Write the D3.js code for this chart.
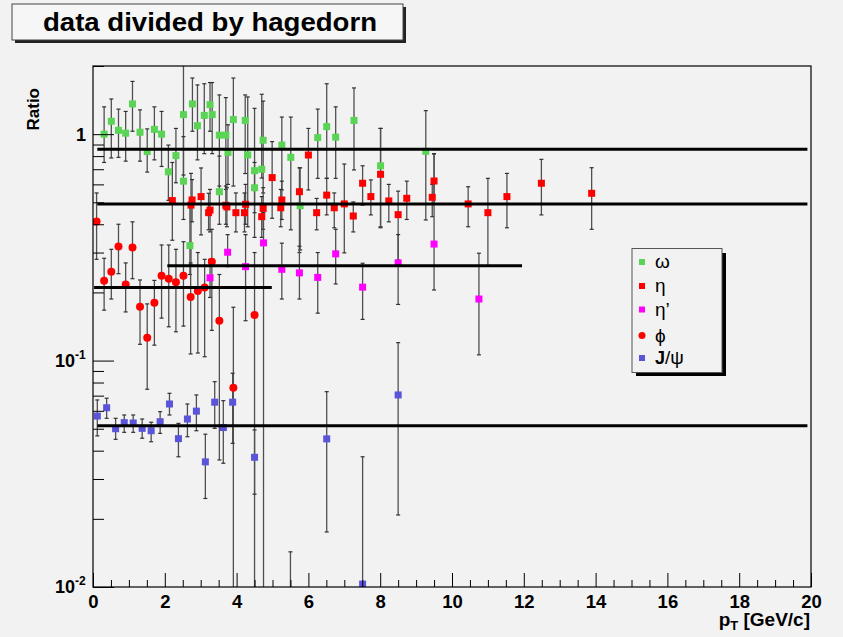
<!DOCTYPE html>
<html><head><meta charset="utf-8">
<script src="https://cdn.jsdelivr.net/npm/d3@7"></script>
<style>
html,body{margin:0;padding:0;background:#f2f2f2;}
svg{display:block;}
text{font-family:"Liberation Sans",Arial,Helvetica,sans-serif;}
</style></head>
<body>
<svg id="c" width="843" height="637"></svg>
<script>
// ---- data: [pT, ratio, errLowEdge, errHighEdge]
const omega = [
 [0.31,1.00,0.75,1.32],[0.51,1.14,0.785,1.43],[0.71,1.04,0.79,1.29],[0.91,1.01,0.76,1.26],
 [1.10,1.36,1.03,1.71],[1.31,1.02,0.76,1.28],[1.51,0.838,0.68,1.055],[1.71,1.05,0.77,1.32],
 [1.91,1.00,0.72,1.26],[2.10,0.682,0.51,0.895],[2.31,0.804,0.61,1.06],[2.52,1.22,0.66,2.2],
 [2.52,0.62,0.42,0.975],[2.70,0.322,0.24,0.5],[2.77,1.36,1.03,1.77],[2.91,1.09,0.77,1.65],
 [3.10,1.21,0.82,1.67],[3.26,1.35,1.03,1.69],[3.32,1.22,0.82,1.69],[3.52,0.99,0.59,1.49],
 [3.70,0.99,0.57,1.45],[3.52,0.557,0.40,0.80],[3.76,0.83,0.60,1.10],[3.91,1.16,0.59,1.77],
 [4.24,1.15,0.67,1.49],[4.31,0.81,0.39,1.46],[4.50,0.69,0.35,1.30],[4.50,0.58,0.45,0.75],
 [4.70,0.70,0.64,1.50],[4.74,0.94,0.55,1.40],[5.26,0.895,0.567,1.19],[5.51,0.79,0.378,1.19],
 [5.77,0.483,0.308,0.71],[6.26,0.966,0.638,1.29],[6.51,1.08,0.638,1.67],[6.76,0.97,0.638,1.32],
 [7.27,1.15,0.695,1.60],[8.01,0.725,0.39,1.06],[9.27,0.84,0.418,1.27]
];
const eta = [
 [2.21,0.509,0.34,0.75],[2.73,0.486,0.264,0.671],[2.76,0.512,0.41,0.63],[3.01,0.530,0.359,0.709],
 [3.22,0.45,0.378,0.548],[3.26,0.462,0.37,0.57],[3.70,0.485,0.40,0.59],[3.73,0.477,0.39,0.58],
 [3.98,0.45,0.37,0.55],[4.22,0.45,0.37,0.55],[4.25,0.49,0.40,0.60],[4.70,0.432,0.35,0.53],
 [4.74,0.47,0.38,0.58],[4.99,0.643,0.425,0.927],[5.23,0.473,0.39,0.57],[5.26,0.512,0.42,0.62],
 [5.75,0.557,0.30,0.71],[6.00,0.809,0.567,1.06],[6.23,0.45,0.378,0.52],[6.51,0.538,0.44,0.638],
 [6.72,0.473,0.386,0.55],[7.00,0.492,0.299,0.738],[7.25,0.435,0.37,0.502],[7.51,0.607,0.486,0.725],
 [7.74,0.530,0.44,0.628],[8.01,0.665,0.386,1.06],[8.24,0.507,0.41,0.60],[8.50,0.441,0.278,0.56],
 [8.74,0.521,0.42,0.62],[9.45,0.526,0.432,0.60],[9.50,0.621,0.49,0.82],[10.45,0.492,0.39,0.586],
 [11.00,0.45,0.262,0.638],[11.53,0.53,0.386,0.671],[12.49,0.607,0.44,0.774],[13.89,0.548,0.38,0.711]
];
const etaPrime = [
 [3.26,0.232,0.19,0.28],[3.75,0.301,0.26,0.36],[4.25,0.26,0.15,0.36],[4.75,0.331,0.005,0.45],
 [5.26,0.253,0.187,0.33],[5.75,0.244,0.187,0.32],[6.26,0.233,0.162,0.30],[6.76,0.296,0.218,0.38],
 [7.51,0.211,0.152,0.269],[8.50,0.27,0.177,0.36],[9.50,0.327,0.205,0.818],[10.75,0.187,0.106,0.298]
];
const phi = [
 [0.10,0.411,0.28,0.55],[0.31,0.225,0.167,0.283],[0.51,0.247,0.187,0.31],[0.71,0.319,0.242,0.40],
 [0.91,0.217,0.164,0.27],[1.10,0.316,0.23,0.41],[1.31,0.173,0.118,0.227],[1.51,0.126,0.0747,0.178],
 [1.71,0.180,0.117,0.226],[1.91,0.237,0.154,0.324],[2.11,0.230,0.141,0.324],[2.31,0.222,0.134,0.31],
 [2.52,0.237,0.142,0.335],[2.72,0.191,0.107,0.27],[2.92,0.203,0.108,0.30],[3.11,0.210,0.104,0.28],
 [3.31,0.273,0.136,0.38],[3.52,0.150,0.0364,0.24],[3.91,0.0759,0.005,0.172],[4.50,0.159,0.005,0.30]
];
const jpsi = [
 [0.12,0.0569,0.0465,0.067],[0.38,0.0619,0.0556,0.0682],[0.63,0.050,0.0449,0.0556],[0.87,0.0532,0.0482,0.0575],
 [1.12,0.0530,0.0482,0.0575],[1.37,0.0502,0.0454,0.0552],[1.62,0.049,0.0438,0.0534],[1.87,0.0537,0.0477,0.0595],
 [2.13,0.0643,0.0575,0.0717],[2.38,0.0452,0.0376,0.0528],[2.63,0.0552,0.0461,0.0643],[2.88,0.0598,0.049,0.0705],
 [3.13,0.0357,0.0246,0.0473],[3.39,0.0655,0.0502,0.0807],[3.63,0.0506,0.0352,0.0665],[3.89,0.0655,0.0431,0.0879],
 [4.50,0.0374,0.0257,0.0494],[5.50,0.005,0.001,0.0143],[6.51,0.0451,0.0175,0.0729],[7.51,0.0103,0.001,0.0376],
 [8.50,0.0705,0.0208,0.12]
];
// fitted constant levels: [level, ptFrom, ptTo]
const fitOmega = [0.857, 0.12, 19.9];
const fitEta = [0.492, 0.12, 19.9];
const fitEtaPrime = [0.262, 2.07, 11.95];
const fitPhi = [0.21, 0.03, 4.98];
const fitJpsi = [0.0516, 0.12, 19.9];
const xMajorTicks = [0,2,4,6,8,10,12,14,16,18,20];
const legendLabels = ["ω","η","η’","ϕ","J/ψ"];

const svg = d3.select("#c");
const L=93, R=811, T=66, B=587;
const x = d3.scaleLinear().domain([0,20]).range([L,R]);
const y = d3.scaleLog().domain([0.01,2]).range([B,T]);

svg.append("rect").attr("width",843).attr("height",637).attr("fill","#f2f2f2");
svg.append("defs").append("clipPath").attr("id","fr").append("rect")
  .attr("x",L).attr("y",T).attr("width",R-L).attr("height",B-T);

const plot = svg.append("g").attr("clip-path","url(#fr)");

const series = [
  {d:omega, color:"#59d454", shape:"sq"},
  {d:eta, color:"#ff0000", shape:"sq"},
  {d:etaPrime, color:"#ff00ff", shape:"sq"},
  {d:phi, color:"#ff0000", shape:"ci"},
  {d:jpsi, color:"#5954d8", shape:"sq"}
];
const fy = v => y(Math.max(v,0.003));
series.forEach(s=>{
  const g = plot.append("g");
  g.selectAll("line.e").data(s.d).enter().append("line")
    .attr("x1",d=>x(d[0])).attr("x2",d=>x(d[0]))
    .attr("y1",d=>fy(d[2])).attr("y2",d=>fy(d[3]))
    .attr("stroke","#505050").attr("stroke-width",1.3);
  g.selectAll("line.ch").data(s.d).enter().append("line")
    .attr("x1",d=>x(d[0])-2).attr("x2",d=>x(d[0])+2)
    .attr("y1",d=>fy(d[3])).attr("y2",d=>fy(d[3]))
    .attr("stroke","#303030").attr("stroke-width",1.2);
  g.selectAll("line.cl").data(s.d).enter().append("line")
    .attr("x1",d=>x(d[0])-2).attr("x2",d=>x(d[0])+2)
    .attr("y1",d=>fy(d[2])).attr("y2",d=>fy(d[2]))
    .attr("stroke","#303030").attr("stroke-width",1.2);
});
series.forEach(s=>{
  const g = plot.append("g");
  if(s.shape==="sq"){
    g.selectAll("rect").data(s.d).enter().append("rect")
      .attr("x",d=>x(d[0])-3.5).attr("y",d=>fy(d[1])-3.5)
      .attr("width",7).attr("height",7).attr("fill",s.color);
  } else {
    g.selectAll("circle").data(s.d).enter().append("circle")
      .attr("cx",d=>x(d[0])).attr("cy",d=>fy(d[1])).attr("r",4).attr("fill",s.color);
  }
});
[fitOmega,fitEta,fitEtaPrime,fitPhi,fitJpsi].forEach(f=>{
  plot.append("line").attr("x1",x(f[1])).attr("x2",x(f[2]))
    .attr("y1",y(f[0])).attr("y2",y(f[0]))
    .attr("stroke","#000").attr("stroke-width",3);
});

// frame
svg.append("rect").attr("x",L).attr("y",T).attr("width",R-L).attr("height",B-T)
  .attr("fill","none").attr("stroke","#000").attr("stroke-width",1.2);

// x axis
const xMinor = d3.range(0,20.01,0.5).filter(v=>xMajorTicks.indexOf(v)<0);
const gxm = svg.append("g").attr("transform",`translate(0,${B})`)
  .call(d3.axisBottom(x).tickValues(xMinor).tickSize(-7).tickFormat(""));
const gx = svg.append("g").attr("transform",`translate(0,${B})`)
  .call(d3.axisBottom(x).tickValues(xMajorTicks).tickSize(-14).tickFormat(d3.format("d")));
[gx,gxm].forEach(g=>{g.select(".domain").remove(); g.selectAll(".tick line").attr("stroke","#000").attr("stroke-width",1);});
gx.selectAll(".tick text").attr("y",21).attr("dy",null)
  .attr("font-size",18.5).attr("font-weight","bold").attr("fill","#000")
  .attr("font-family","Liberation Sans, Arial, sans-serif");

// y axis
const yMajor = [0.01,0.1,1];
const yMinor = [];
[0.01,0.1].forEach(dec=>{for(let k=2;k<=9;k++) yMinor.push(k*dec);});
yMinor.push(2);
const gym = svg.append("g").attr("transform",`translate(${L},0)`)
  .call(d3.axisLeft(y).tickValues(yMinor).tickSize(-11).tickFormat(""));
const gy = svg.append("g").attr("transform",`translate(${L},0)`)
  .call(d3.axisLeft(y).tickValues(yMajor).tickSize(-21).tickFormat(""));
[gy,gym].forEach(g=>{g.select(".domain").remove(); g.selectAll(".tick line").attr("stroke","#000").attr("stroke-width",1);});

const yl = svg.append("g").attr("font-weight","bold").attr("fill","#000");
yl.append("text").attr("x",86).attr("y",y(1)+7).attr("text-anchor","end").attr("font-size",18).text("1");
[[0.1,"-1"],[0.01,"-2"]].forEach(([v,e])=>{
  yl.append("text").attr("x",75).attr("y",y(v)+6).attr("text-anchor","end").attr("font-size",18).text("10");
  yl.append("text").attr("x",75).attr("y",y(v)-2).attr("font-size",12).text(e);
});

// axis titles
const xt = svg.append("text").attr("x",810).attr("y",626).attr("text-anchor","end")
  .attr("font-size",19).attr("font-weight","bold");
xt.append("tspan").text("p");
xt.append("tspan").attr("font-size",13).attr("dy",4).text("T");
xt.append("tspan").attr("dy",-4).text(" [GeV/c]");

svg.append("text").attr("transform","translate(39,88) rotate(-90)").attr("text-anchor","end")
  .attr("font-size",17).attr("font-weight","bold").text("Ratio");

// title box
svg.append("rect").attr("x",15).attr("y",7).attr("width",391).attr("height",36).attr("fill","#222");
svg.append("rect").attr("x",12).attr("y",4).attr("width",391).attr("height",36)
  .attr("fill","#f6f6f6").attr("stroke","#444").attr("stroke-width",1);
svg.append("text").attr("x",210).attr("y",31).attr("text-anchor","middle")
  .attr("font-size",26).attr("font-weight","bold")
  .attr("textLength",334).attr("lengthAdjust","spacingAndGlyphs")
  .text("data divided by hagedorn");

// legend
const lg = svg.append("g");
lg.append("rect").attr("x",636).attr("y",253).attr("width",90).attr("height",123).attr("fill","#000");
lg.append("rect").attr("x",632).attr("y",248.5).attr("width",90).attr("height",124)
  .attr("fill","#f2f2f2").attr("stroke","#555").attr("stroke-width",1);
const rows = [262,286,309.5,335.5,358];
series.forEach((s,i)=>{
  if(s.shape==="sq"){
    lg.append("rect").attr("x",639).attr("y",rows[i]-3).attr("width",6).attr("height",6).attr("fill",s.color);
  } else {
    lg.append("circle").attr("cx",642).attr("cy",rows[i]).attr("r",3.5).attr("fill",s.color);
  }
  const t = lg.append("text").attr("x",655).attr("y",rows[i]+6).attr("font-size",19)
    .attr("font-family","Liberation Serif, Times New Roman, serif");
  if(i===4){
    t.append("tspan").attr("font-family","Liberation Sans, Arial, sans-serif").attr("font-weight","bold").attr("font-size",18).text("J");
    t.append("tspan").text("/ψ");
  } else t.text(legendLabels[i]);
});
</script>
</body></html>
